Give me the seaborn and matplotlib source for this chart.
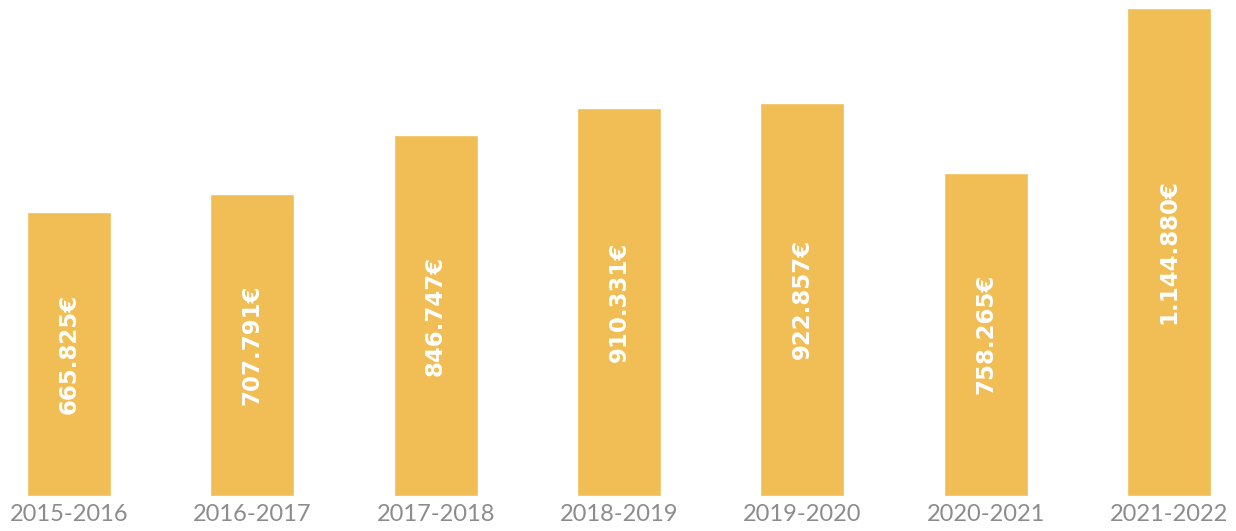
import pandas as pd
import seaborn as sns
import matplotlib.pyplot as plt

seasons = ['2015-2016', '2016-2017', '2017-2018', '2018-2019', '2019-2020', '2020-2021', '2021-2022']
values = [665825, 707791, 846747, 910331, 922857, 758265, 1144880]
labels = ['665.825€', '707.791€', '846.747€', '910.331€', '922.857€', '758.265€', '1.144.880€']

df = pd.DataFrame({'season': seasons, 'value': values})

sns.set_style('white')
plt.rcParams['font.family'] = ['Lato', 'DejaVu Sans']

fig = plt.figure(figsize=(12.36, 5.31), dpi=100)
ax = fig.add_axes([0, 0.066, 1, 0.919])

sns.barplot(data=df, x='season', y='value', color='#F0BE55', saturation=1, width=0.458, ax=ax)

# value labels, rotated inside each bar
for i, (v, lab) in enumerate(zip(values, labels)):
    ax.text(i, v / 2, lab, rotation=90, ha='center', va='center',
            color='white', fontsize=16.5, fontweight='bold',
            family='DejaVu Sans')

ax.set_xlim(-0.376, 6.366)
ax.set_ylim(0, 1144880)
ax.set_xlabel('')
ax.set_ylabel('')
ax.set_yticks([])
ax.tick_params(axis='x', length=0, pad=6, labelsize=17, labelcolor='#8c8c8c')
sns.despine(ax=ax, left=True, bottom=True)

fig.savefig('out.png', dpi=100)
